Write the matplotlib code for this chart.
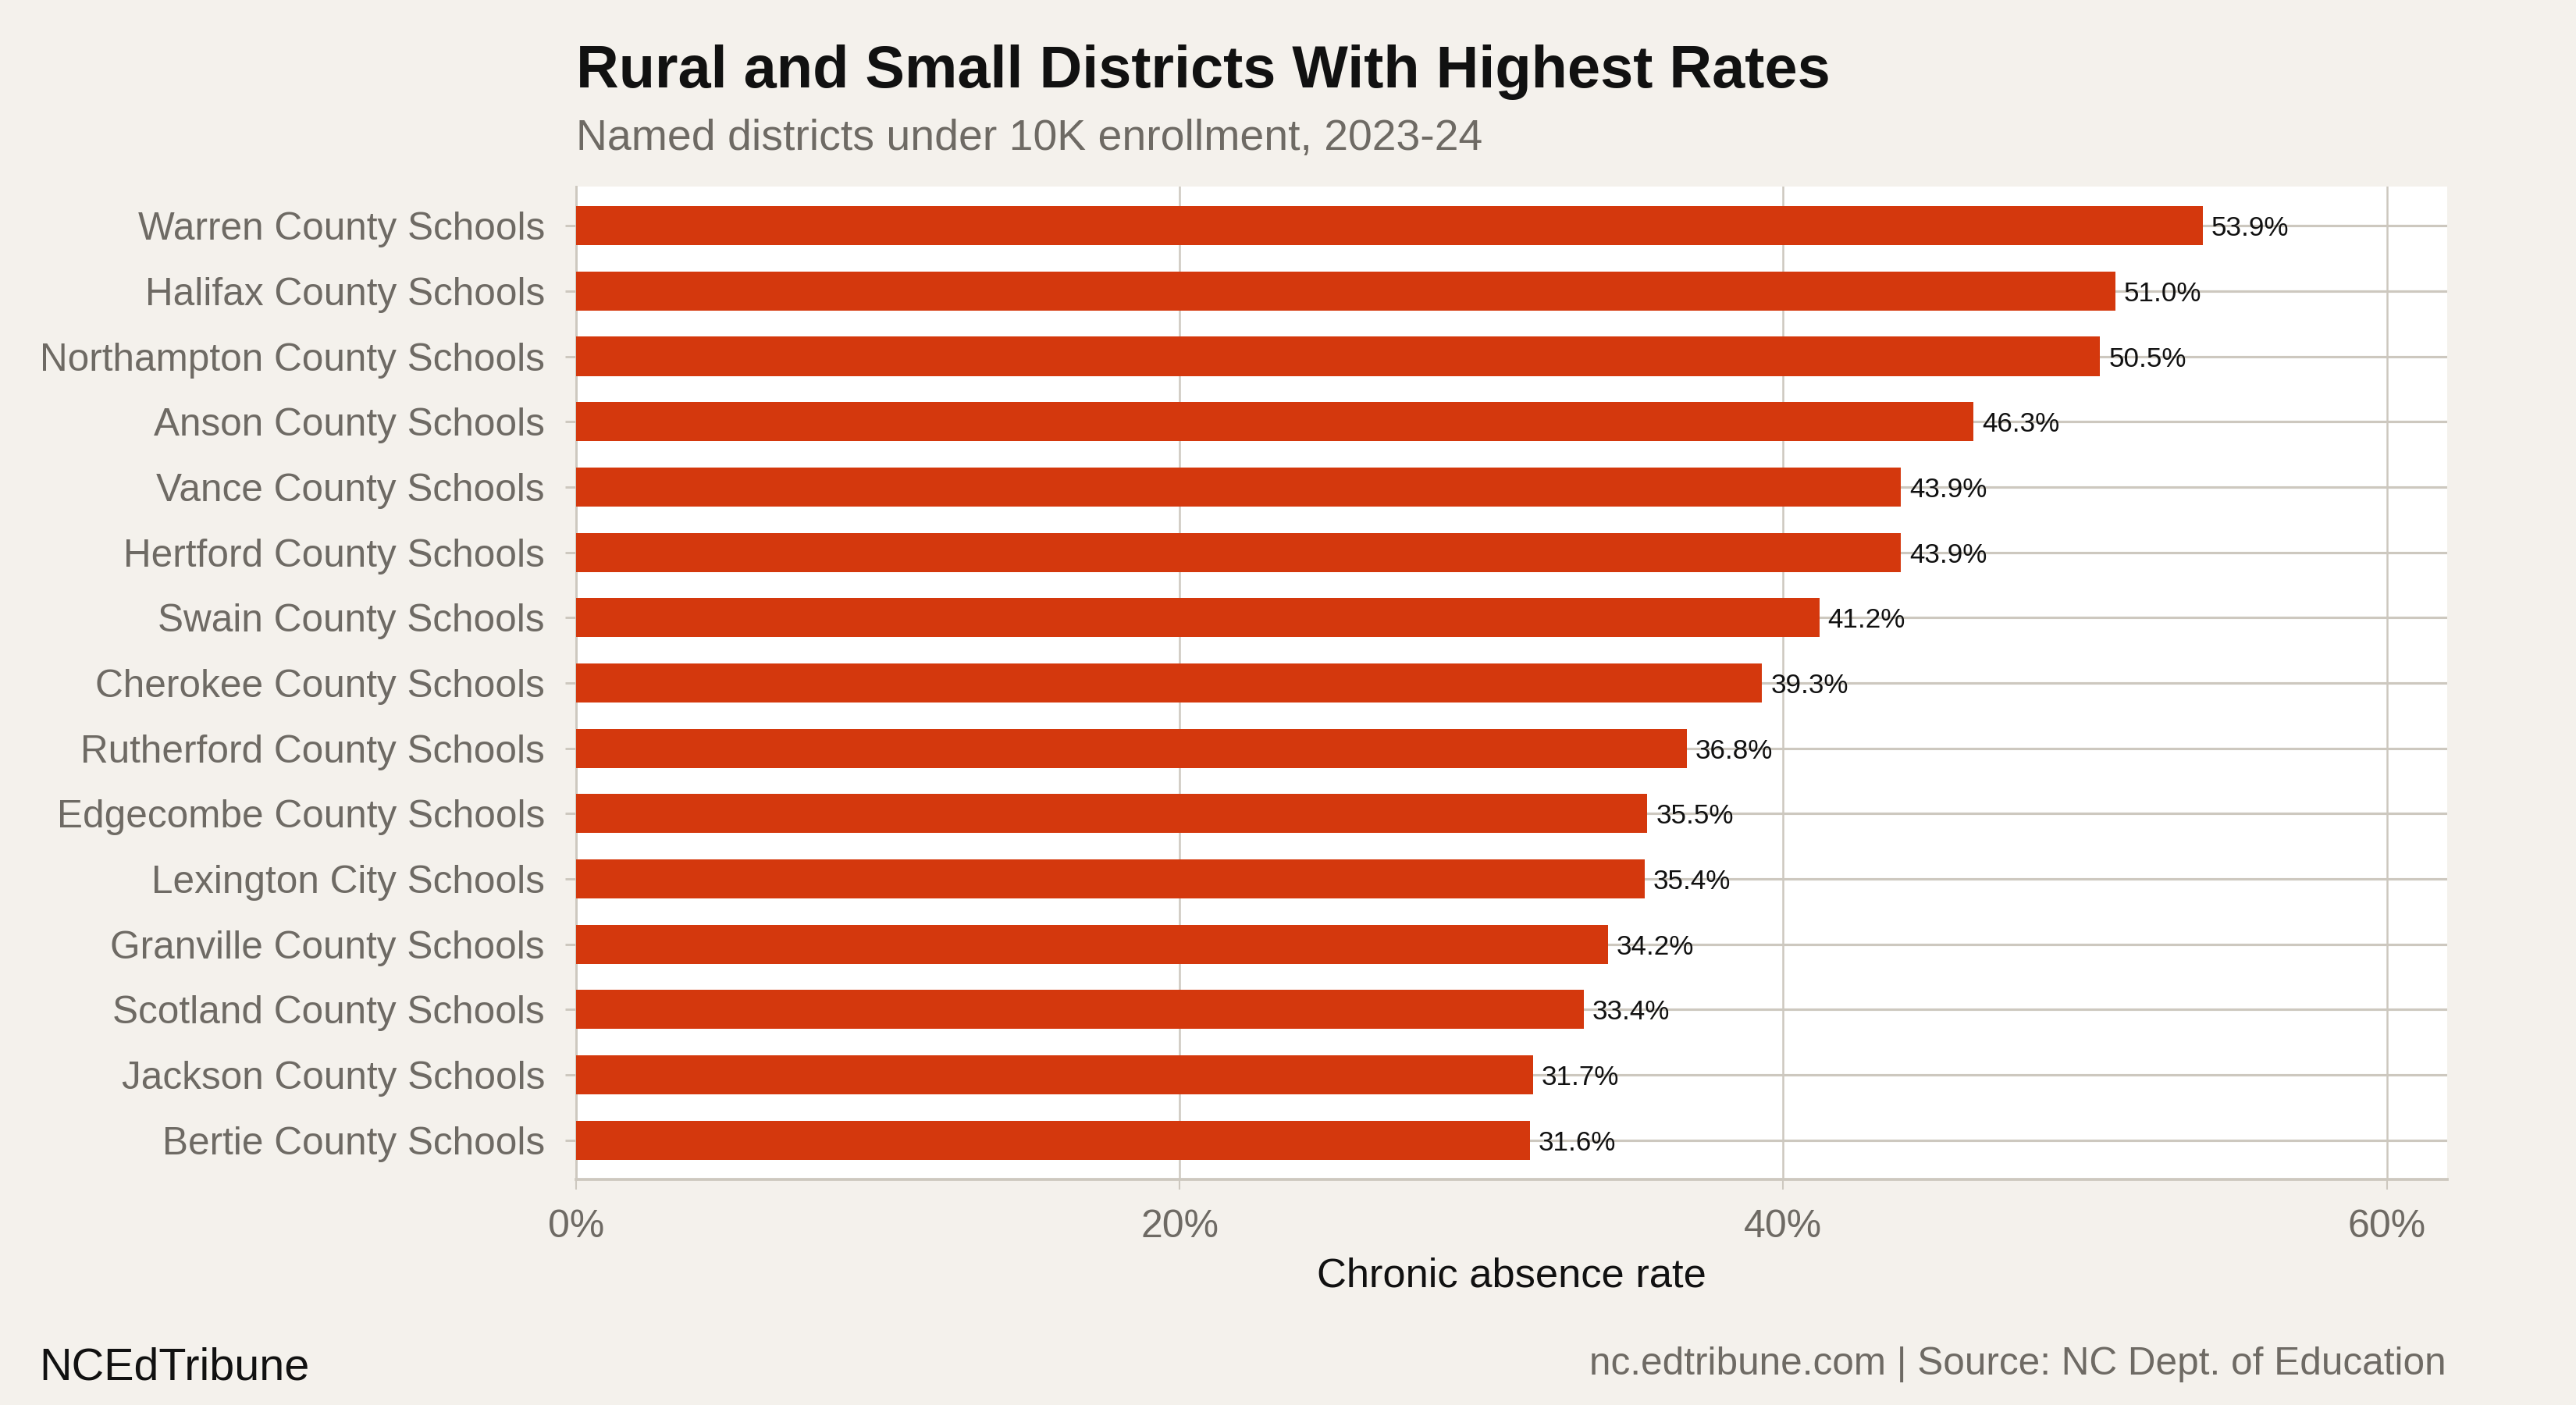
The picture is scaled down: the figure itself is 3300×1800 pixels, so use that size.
import matplotlib
matplotlib.use("Agg")
import matplotlib.pyplot as plt
import numpy as np

# ── data (top to bottom) ──
districts = ["Warren County Schools", "Halifax County Schools", "Northampton County Schools",
             "Anson County Schools", "Vance County Schools", "Hertford County Schools",
             "Swain County Schools", "Cherokee County Schools", "Rutherford County Schools",
             "Edgecombe County Schools", "Lexington City Schools", "Granville County Schools",
             "Scotland County Schools", "Jackson County Schools", "Bertie County Schools"]
rates = [53.9, 51.0, 50.5, 46.3, 43.9, 43.9, 41.2, 39.3, 36.8, 35.5, 35.4, 34.2, 33.4, 31.7, 31.6]
x_ticks = [0, 20, 40, 60]
x_ticklabels = ["0%", "20%", "40%", "60%"]

bg = "#f4f1ec"
bar_color = "#d4380d"
grid_color = "#cdc8bf"
gray_text = "#6e6a64"

plt.rcParams["font.family"] = ["Liberation Sans", "DejaVu Sans"]

fig = plt.figure(figsize=(11, 6), dpi=300, facecolor=bg)
ax = fig.add_axes([0.2236, 0.1606, 0.95 - 0.2236, 0.8672 - 0.1606])
ax.set_facecolor("white")

y = np.arange(len(districts))[::-1]
ax.barh(y, rates, height=0.6, color=bar_color, zorder=3)
for yi, r in zip(y, rates):
    ax.annotate(f"{r:.1f}%", (r, yi), xytext=(2.6, 0), textcoords="offset points",
                va="center_baseline", ha="left", fontsize=8.4, color="#111111", zorder=4)

ax.set_xlim(0, 62)
ax.set_ylim(-0.6, len(districts) - 0.4)
ax.set_yticks(y)
ax.set_yticklabels(districts)
ax.set_xticks(x_ticks)
ax.set_xticklabels(x_ticklabels)

ax.grid(axis="y", color=grid_color, linewidth=0.75, zorder=1)
ax.grid(axis="x", color=grid_color, linewidth=0.6, zorder=1)
ax.tick_params(axis="y", length=3.4, width=0.7, color=grid_color, pad=6.2,
               labelsize=11.9, labelcolor=gray_text)
ax.tick_params(axis="x", length=3.1, width=0.5, color=grid_color, pad=6.0,
               labelsize=12, labelcolor=gray_text)

for side in ["top", "right"]:
    ax.spines[side].set_visible(False)
ax.spines["left"].set_color(grid_color)
ax.spines["left"].set_linewidth(0.7)
ax.spines["bottom"].set_color(grid_color)
ax.spines["bottom"].set_linewidth(0.9)

ax.set_xlabel("Chronic absence rate", fontsize=12.6, color="#111111", labelpad=3.8)

fig.text(0.2236, 1 - 112 / 1800, "Rural and Small Districts With Highest Rates",
         fontsize=18.2, fontweight="bold", color="#111111", va="baseline", ha="left")
fig.text(0.2236, 1 - 192 / 1800, "Named districts under 10K enrollment, 2023-24",
         fontsize=13.3, color=gray_text, va="baseline", ha="left")
fig.text(0.0152, 1 - 1767 / 1800, "NCEdTribune", fontsize=13.8, color="#111111",
         va="baseline", ha="left")
fig.text(0.9497, 1 - 1761 / 1800, "nc.edtribune.com | Source: NC Dept. of Education",
         fontsize=11.9, color=gray_text, va="baseline", ha="right")

fig.savefig("out.png", dpi=300, facecolor=bg)
